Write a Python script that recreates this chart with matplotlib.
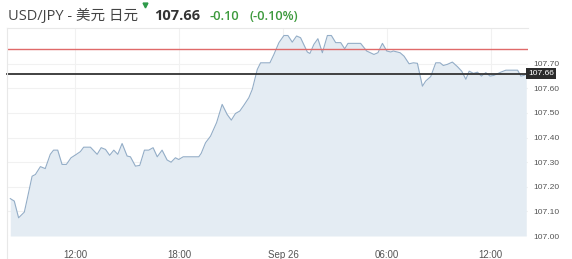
import matplotlib
matplotlib.use("Agg")
import matplotlib.pyplot as plt
from matplotlib.lines import Line2D

# hours since Sep 25 00:00
hours = [8.24, 8.47, 8.72, 8.92, 9.05, 9.17, 9.50, 9.69, 9.98, 10.26, 10.55, 10.74, 10.98,
         11.23, 11.48, 11.75, 12.06, 12.29, 12.48, 12.87, 13.26, 13.49, 13.74, 13.98, 14.22,
         14.45, 14.70, 14.99, 15.18, 15.47, 15.72, 15.99, 16.24, 16.49, 16.73, 17.01, 17.30,
         17.53, 17.78, 17.97, 18.23, 19.13, 19.27, 19.52, 19.81, 20.16, 20.48, 20.77, 21.01,
         21.25, 21.50, 21.73, 22.02, 22.22, 22.51, 22.70, 23.24, 23.47, 23.76, 24.05, 24.28,
         24.53, 24.78, 25.01, 25.40, 25.55, 25.78, 26.01, 26.27, 26.56, 26.79, 27.04, 27.33,
         27.56, 27.75, 28.48, 28.83, 29.25, 29.48, 29.74, 29.99, 30.22, 30.37, 30.76, 30.99,
         31.28, 31.53, 31.76, 32.05, 32.24, 32.53, 32.82, 33.07, 33.26, 33.50, 33.78, 34.08,
         34.32, 34.56, 34.75, 35.00, 35.23, 35.46, 35.71, 35.96, 36.19, 36.58, 36.87, 37.55,
         37.74, 37.93, 38.05]
prices = [107.152, 107.142, 107.074, 107.088, 107.097, 107.135, 107.243, 107.250, 107.282,
          107.274, 107.332, 107.349, 107.349, 107.291, 107.291, 107.318, 107.332, 107.343,
          107.361, 107.361, 107.332, 107.359, 107.352, 107.328, 107.349, 107.332, 107.376,
          107.325, 107.322, 107.284, 107.287, 107.349, 107.349, 107.359, 107.322, 107.349,
          107.309, 107.300, 107.318, 107.311, 107.322, 107.322, 107.336, 107.379, 107.406,
          107.461, 107.535, 107.494, 107.471, 107.498, 107.508, 107.531, 107.562, 107.596,
          107.677, 107.704, 107.704, 107.738, 107.786, 107.815, 107.815, 107.788, 107.813,
          107.806, 107.748, 107.742, 107.779, 107.802, 107.745, 107.815, 107.815, 107.786,
          107.786, 107.761, 107.783, 107.783, 107.752, 107.738, 107.745, 107.783, 107.752,
          107.748, 107.752, 107.745, 107.731, 107.700, 107.704, 107.702, 107.609, 107.630,
          107.648, 107.704, 107.704, 107.693, 107.698, 107.707, 107.688, 107.670, 107.637,
          107.670, 107.661, 107.666, 107.650, 107.664, 107.650, 107.653, 107.666, 107.674,
          107.674, 107.650, 107.653, 107.660]

prev_close = 107.76
last_price = 107.66
x_ticks = [12, 18, 24, 30, 36]
x_tick_labels = ["12:00", "18:00", "Sep 26", "06:00", "12:00"]
y_ticks = [107.00, 107.10, 107.20, 107.30, 107.40, 107.50, 107.60, 107.70]
title_pair = "USD/JPY - 美元 日元"
change = "-0.10"
change_pct = "(-0.10%)"

W, H = 572, 259
fig = plt.figure(figsize=(W / 100, H / 100), dpi=100)
fig.patch.set_facecolor("white")

def fx(px):
    return px / W

def fy(py):
    return 1 - py / H

ax = fig.add_axes([fx(7), fy(236), fx(528) - fx(7), fy(28) - fy(236)])
ax.set_xlim(8.05, 38.15)
ax.set_ylim(107.0, 107.8455)

ax.fill_between(hours, prices, 107.0, color="#e4ecf3", lw=0, zorder=1)
ax.plot(hours, prices, color="#93adc7", lw=0.8, zorder=3)

ax.axhline(prev_close, color="#e06a6a", lw=1.0, zorder=4)
ax.axhline(last_price, color="#333333", lw=1.3, zorder=4, clip_on=False)

ax.set_xticks(x_ticks)
ax.set_xticklabels(x_tick_labels, fontsize=7.0, color="#555555", family="Liberation Sans")
ax.set_yticks(y_ticks)
ax.set_yticklabels([f"{v:.2f}" for v in y_ticks], fontsize=6.1, color="#555555",
                   family="Liberation Sans")
ax.yaxis.tick_right()
ax.tick_params(axis="both", length=0)
ax.tick_params(axis="x", pad=10)
ax.tick_params(axis="y", pad=4)
ax.grid(True, color="#f1f1f1", lw=0.8, zorder=0)
ax.set_axisbelow(True)
for side in ["left", "right", "bottom"]:
    ax.spines[side].set_visible(False)
ax.spines["top"].set_color("#e8e8e8")
ax.spines["top"].set_linewidth(0.8)

# left panel border
fig.add_artist(Line2D([fx(7), fx(7)], [fy(28), 0], transform=fig.transFigure,
                      color="#e8e8e8", lw=0.8))

# last price box
ax.annotate(f"{last_price:.2f}", xy=(1.0, last_price), xycoords=("axes fraction", "data"),
            xytext=(0, 0), textcoords="offset points", ha="left", va="center",
            fontsize=6.1, color="white", family="Liberation Sans",
            bbox=dict(boxstyle="square,pad=0.2", fc="#2b2b2b", ec="none"),
            annotation_clip=False, zorder=6)

# header
cjk = ["Open Sans", "Noto Sans CJK SC", "DejaVu Sans"]
fig.text(fx(8), fy(16), title_pair, fontsize=10.5, color="#444444", family=cjk,
         ha="left", va="center")
fig.add_artist(Line2D([fx(145)], [fy(5)], transform=fig.transFigure, marker="v",
                      markersize=3.5, color="#2e9a4a", lw=0))
fig.text(fx(154), fy(16), f"{last_price:.2f}", fontsize=10.5, color="#333333",
         family="Open Sans", weight="bold", ha="left", va="center")
fig.text(fx(209), fy(16), change, fontsize=9.2, color="#3d9a3d",
         family="Open Sans", weight="semibold", ha="left", va="center")
fig.text(fx(250), fy(16), change_pct, fontsize=9.2, color="#3d9a3d",
         family="Open Sans", weight="semibold", ha="left", va="center")

fig.savefig("out.png", dpi=100)
